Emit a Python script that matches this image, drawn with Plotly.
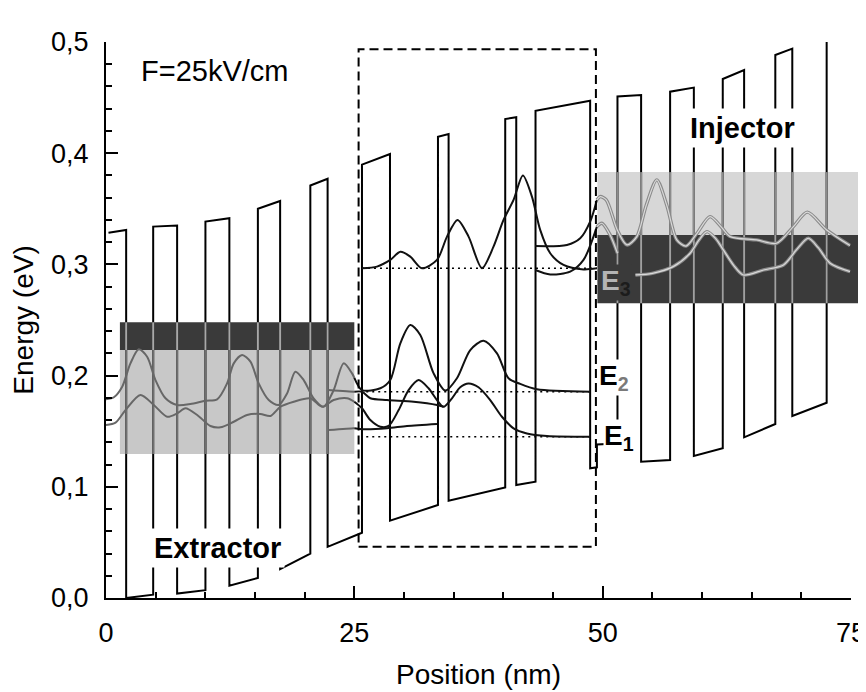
import plotly.graph_objects as go

FONT = "Liberation Sans, Arial, Helvetica, sans-serif"

# ---------------- data ----------------
# conduction band profile (nm, eV)
band_x = [0.25, 2.03, 2.03, 4.75, 4.75, 7.16, 7.16, 10.01, 10.01, 12.42, 12.42, 15.29, 15.29,
          17.53, 17.53, 20.57, 20.57, 22.31, 22.31, 25.77, 25.77, 28.59, 28.59, 33.42, 33.42,
          34.49, 34.49, 40.19, 40.19, 41.30, 41.30, 43.24, 43.24, 48.74, 48.74, 49.42, 49.42,
          51.49, 51.49, 53.87, 53.87, 56.79, 56.79, 59.18, 59.18, 62.09, 62.09, 64.24, 64.24,
          67.38, 67.38, 69.09, 69.09, 72.55, 72.55]
band_y = [0.3285, 0.331, 0.0, 0.003, 0.334, 0.335, 0.004, 0.007, 0.3385, 0.3415, 0.011, 0.018,
          0.350, 0.357, 0.026, 0.040, 0.371, 0.377, 0.046, 0.0587, 0.3897, 0.3993, 0.0695,
          0.0836, 0.4148, 0.4173, 0.0875, 0.0995, 0.4307, 0.4323, 0.1016, 0.1046, 0.4382,
          0.4472, 0.1166, 0.1175, 0.138, 0.139, 0.451, 0.4523, 0.1226, 0.1241, 0.4553, 0.459,
          0.1277, 0.1346, 0.4667, 0.4748, 0.1445, 0.1565, 0.4883, 0.494, 0.1637, 0.1756, 0.5]

# minibands (x range, energy range)
extractor_x = [1.4, 25.0]
extractor_light = [0.1295, 0.223]
extractor_dark = [0.223, 0.248]
injector_x0 = 49.47
injector_light = [0.3265, 0.383]
injector_dark = [0.265, 0.3265]

# extractor states (gray inside extractor, black in active region)
wA_x = [0.0, 0.79, 1.63, 2.46, 3.3, 4.14, 4.98, 5.99, 7.16, 8.5, 10.01, 11.19, 12.19, 12.86,
        13.7, 14.54, 15.37, 16.38, 17.38, 18.23, 19.06, 19.9, 20.9, 21.91, 22.92, 23.92, 24.77,
        25.0, 25.77, 27.62, 28.62, 29.63, 30.63, 31.64, 32.98, 34.16, 35.33, 36.67, 38.01,
        39.36, 40.52, 41.7, 43.38, 48.74]
wA_y = [0.1787, 0.1805, 0.190, 0.211, 0.2236, 0.217, 0.196, 0.1796, 0.1736, 0.1745, 0.1774,
        0.1787, 0.193, 0.211, 0.2185, 0.2125, 0.193, 0.178, 0.1736, 0.184, 0.2035, 0.196,
        0.1796, 0.172, 0.187, 0.211, 0.202, 0.198, 0.187, 0.1886, 0.196, 0.229, 0.2455,
        0.2365, 0.202, 0.1865, 0.1976, 0.223, 0.2314, 0.220, 0.1976, 0.1925, 0.1877, 0.1855]

wB_x = [0.0, 0.96, 1.96, 3.47, 4.81, 6.16, 7.16, 8.0, 9.18, 10.51, 11.52, 12.86, 14.2, 15.54,
        16.55, 17.56, 18.9, 20.57, 21.75, 22.92, 24.26, 25.0, 25.77, 26.61, 27.62, 28.45,
        29.46, 30.46, 31.47, 32.47, 33.32, 33.98, 34.83, 35.66, 36.5, 37.5, 38.68, 39.86,
        41.03, 42.37, 44.39, 48.74]
wB_y = [0.1556, 0.1577, 0.169, 0.1826, 0.1736, 0.163, 0.166, 0.1706, 0.1646, 0.1547, 0.1535,
        0.1585, 0.1646, 0.1655, 0.1637, 0.172, 0.1765, 0.1796, 0.172, 0.178, 0.1796, 0.1765,
        0.1706, 0.160, 0.154, 0.1547, 0.169, 0.187, 0.196, 0.1886, 0.178, 0.172, 0.1796,
        0.1895, 0.193, 0.1895, 0.178, 0.163, 0.1526, 0.148, 0.1457, 0.145]

wC_x = [22.4, 24.93, 25.0, 25.77, 26.61, 28.29, 30.97, 33.32, 33.98]
wC_y = [0.187, 0.1855, 0.1855, 0.1855, 0.1796, 0.178, 0.1765, 0.1736, 0.172]

wD_x = [22.41, 24.93, 25.0, 25.94, 28.29, 30.3, 33.32]
wD_y = [0.151, 0.1526, 0.1526, 0.1517, 0.1526, 0.1547, 0.1565]

# upper laser state of the active region
wE3_x = [25.77, 27.28, 28.62, 29.63, 30.63, 31.81, 33.32, 34.33, 35.39, 36.5, 37.85, 39.01,
         40.02, 41.03, 41.97, 42.88, 43.71, 44.72, 46.06, 48.07, 49.42]
wE3_y = [0.2965, 0.298, 0.304, 0.3114, 0.307, 0.2965, 0.304, 0.325, 0.340, 0.325, 0.2965,
         0.316, 0.340, 0.358, 0.380, 0.361, 0.331, 0.310, 0.2995, 0.2955, 0.2965]

# injector states (black in active region, gray inside injector)
wU_x = [43.21, 46.4, 47.74, 48.74, 49.42, 49.75, 50.36, 51.47, 52.43, 53.44, 54.38, 55.45,
        56.46, 57.46, 58.4, 59.5, 60.81, 62.0, 62.83, 65.5, 67.5, 69.2, 70.6, 72.55, 74.9]
wU_y = [0.3165, 0.3175, 0.3235, 0.3385, 0.358, 0.361, 0.358, 0.331, 0.3175, 0.325, 0.353,
        0.376, 0.353, 0.322, 0.3165, 0.328, 0.343, 0.333, 0.325, 0.322, 0.319, 0.334, 0.347,
        0.331, 0.317]

wL_x = [43.21, 44.72, 46.73, 48.07, 49.42, 49.92, 50.75, 51.49, None, 53.3, 55.0, 57.1, 58.8,
        59.7, 60.5, 61.4, 62.15, 63.2, 64.16, 66.2, 68.2, 69.5, 70.7, 71.7, 72.9, 74.9]
wL_y = [0.295, 0.291, 0.2935, 0.304, 0.334, 0.337, 0.3265, 0.310, None, 0.2905, 0.292, 0.298,
        0.310, 0.322, 0.3295, 0.323, 0.313, 0.299, 0.2905, 0.295, 0.2995, 0.313, 0.3235,
        0.315, 0.301, 0.2935]

# energy levels in the active region (dotted)
level_E3 = [25.77, 49.42, 0.2965]
level_E2 = [26.2, 48.74, 0.1855]
level_E1 = [26.2, 48.74, 0.145]

# active region frame
active_box = [25.43, 49.32, 0.0462, 0.4934]

x_range = [0, 75]
y_range = [0, 0.5]

# ---------------- figure ----------------
fig = go.Figure()

def px(x):
    return (x - x_range[0]) / (x_range[1] - x_range[0])

shapes = []
for rng, col in [(extractor_light, "#c8c8c8"), (extractor_dark, "#3a3a3a")]:
    shapes.append(dict(type="rect", xref="x", yref="y", x0=extractor_x[0], x1=extractor_x[1],
                       y0=rng[0], y1=rng[1], fillcolor=col, line=dict(width=0), layer="below"))
for rng, col in [(injector_light, "#d7d7d7"), (injector_dark, "#3a3a3a")]:
    shapes.append(dict(type="rect", xref="paper", yref="y", x0=px(injector_x0), x1=1.02,
                       y0=rng[0], y1=rng[1], fillcolor=col, line=dict(width=0), layer="below"))
shapes.append(dict(type="rect", xref="x", yref="y", x0=active_box[0], x1=active_box[1],
                   y0=active_box[2], y1=active_box[3], line=dict(color="black", width=2, dash="9px,5px"),
                   fillcolor="rgba(0,0,0,0)", layer="above"))

# band profile
fig.add_trace(go.Scatter(x=band_x, y=band_y, mode="lines", line=dict(color="black", width=2),
                         hoverinfo="skip", showlegend=False))

# walls crossing minibands drawn lighter
band_regions = [
    (extractor_x[0], extractor_x[1], extractor_light, "#707070"),
    (extractor_x[0], extractor_x[1], extractor_dark, "#a8a8a8"),
    (injector_x0, 200, injector_light, "#8c8c8c"),
    (injector_x0, 200, injector_dark, "#a0a0a0"),
]
for bx0, bx1, rng, col in band_regions:
    sx, sy = [], []
    for i in range(len(band_x) - 1):
        if band_x[i] == band_x[i + 1] and bx0 <= band_x[i] <= bx1:
            lo = max(min(band_y[i], band_y[i + 1]), rng[0])
            hi = min(max(band_y[i], band_y[i + 1]), rng[1])
            if lo < hi:
                sx += [band_x[i], band_x[i], None]
                sy += [lo, hi, None]
    fig.add_trace(go.Scatter(x=sx, y=sy, mode="lines", line=dict(color=col, width=2),
                             hoverinfo="skip", showlegend=False))

def split(xs, ys, edge):
    a_x, a_y, b_x, b_y = [], [], [], []
    for x, y in zip(xs, ys):
        if x is None:
            b_x.append(None); b_y.append(None)
            continue
        if x <= edge:
            a_x.append(x); a_y.append(y)
        if x >= edge:
            b_x.append(x); b_y.append(y)
    return a_x, a_y, b_x, b_y

def wave(xs, ys, color, width=2):
    fig.add_trace(go.Scatter(x=xs, y=ys, mode="lines", hoverinfo="skip", showlegend=False,
                             connectgaps=False,
                             line=dict(color=color, width=width, shape="spline", smoothing=0.8)))

# dotted levels
for lv in [level_E3, level_E2, level_E1]:
    fig.add_trace(go.Scatter(x=[lv[0], lv[1]], y=[lv[2], lv[2]], mode="lines", hoverinfo="skip",
                             showlegend=False, line=dict(color="black", width=1.5, dash="2px,4px")))

for xs, ys in [(wA_x, wA_y), (wB_x, wB_y), (wC_x, wC_y), (wD_x, wD_y)]:
    gx, gy, kx, ky = split(xs, ys, extractor_x[1])
    wave(gx, gy, "#676767")
    wave(kx, ky, "#111111")

wave(wE3_x, wE3_y, "#111111")

for xs, ys in [(wU_x, wU_y), (wL_x, wL_y)]:
    kx, ky, gx, gy = split(xs, ys, 49.42)
    wave(kx, ky, "#111111")
    wave(gx, gy, "#8a8a8a", 3.4)
    wave(gx, gy, "#d9d9d9", 1.2)

annotations = [
    dict(text="F=25kV/cm", x=10.94, y=0.4737, font=dict(size=29)),
    dict(text="<b>Active region</b>", x=36.9, y=0.513, font=dict(size=28)),
    dict(text="<b>Injector</b>", x=64.1, y=0.4227, font=dict(size=29), bgcolor="white", borderpad=3),
    dict(text="<b>Extractor</b>", x=11.27, y=0.0454, font=dict(size=29), bgcolor="white", borderpad=3),
    dict(text='<b><span style="color:#b4b4b4">E</span><sub><span style="color:#1c1c1c">3</span></sub></b>',
         x=49.75, y=0.284, xanchor="left", font=dict(size=28), bgcolor="#3a3a3a", borderpad=0),
    dict(text='<b>E<sub><span style="color:#7a7a7a">2</span></sub></b>',
         x=49.55, y=0.198, xanchor="left", font=dict(size=28), bgcolor="white", borderpad=0),
    dict(text='<b>E<sub>1</sub></b>',
         x=50.0, y=0.144, xanchor="left", font=dict(size=28), bgcolor="white", borderpad=0),
]
for a in annotations:
    a.setdefault("xanchor", "center")
    a.update(xref="x", yref="y", yanchor="middle", showarrow=False)
    a["font"].update(family=FONT, color="black")

axis_common = dict(showline=True, linewidth=2, linecolor="black", showgrid=False, zeroline=False,
                   ticks="inside", ticklen=12, tickwidth=2, tickcolor="black", mirror=False,
                   automargin=False, ticklabeloverflow="allow",
                   tickfont=dict(family=FONT, size=27, color="black"))

# the page body adds an 8px offset, so the figure is sized to the remaining area
fig.update_layout(
    width=858, height=684,
    margin=dict(l=98, r=15, t=34, b=94),
    plot_bgcolor="white", paper_bgcolor="white",
    separators=",.",
    shapes=shapes,
    annotations=annotations,
    xaxis=dict(range=x_range, tickvals=[0, 25, 50, 75], ticklabelstandoff=10,
               minor=dict(ticks="inside", ticklen=6, tickwidth=2, tickcolor="black", dtick=5, tick0=0),
               title=dict(text="Position (nm)", font=dict(family=FONT, size=28, color="black"), standoff=17),
               **axis_common),
    yaxis=dict(range=y_range, dtick=0.1, tick0=0, tickformat=".1f", ticklabelstandoff=10,
               minor=dict(ticks="inside", ticklen=6, tickwidth=2, tickcolor="black", dtick=0.02, tick0=0),
               title=dict(text="Energy (eV)", font=dict(family=FONT, size=28, color="black"), standoff=17),
               **axis_common),
)

fig.write_html("out.html")
